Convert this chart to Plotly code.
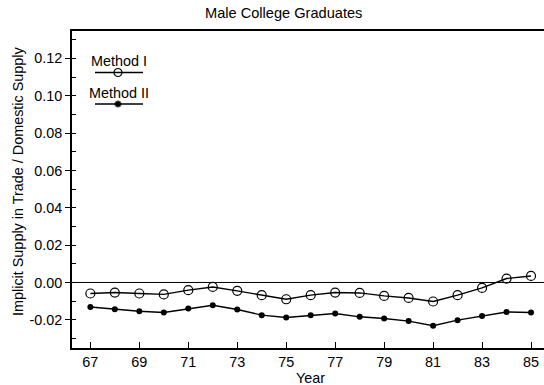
import plotly.graph_objects as go

# Survey years (19xx) and the two estimates of implicit supply
years = list(range(67, 86))
method_1 = [-0.0059, -0.0054, -0.0059, -0.0064, -0.0041, -0.0024, -0.0045, -0.0068,
            -0.0090, -0.0068, -0.0054, -0.0056, -0.0072, -0.0083, -0.0102, -0.0068,
            -0.0029, 0.0021, 0.0035]
method_2 = [-0.0131, -0.0143, -0.0154, -0.0161, -0.0140, -0.0122, -0.0145, -0.0175,
            -0.0188, -0.0175, -0.0166, -0.0184, -0.0193, -0.0207, -0.0232, -0.0202,
            -0.0179, -0.0158, -0.0161]
x_ticks = list(range(67, 86, 2))
y_ticks = [-0.02, 0.0, 0.02, 0.04, 0.06, 0.08, 0.10, 0.12]

W, H = 544, 385
L, R, T, B = 72, 0, 31, 37
FONT = "Liberation Sans, Arial, sans-serif"
FS = 14.4

fig = go.Figure()
fig.add_trace(go.Scatter(
    x=years, y=method_1, mode="lines+markers", name="Method I",
    line=dict(color="black", width=1.4),
    marker=dict(symbol="circle-open", size=9, color="black", line=dict(width=1.2)),
))
fig.add_trace(go.Scatter(
    x=years, y=method_2, mode="lines+markers", name="Method II",
    line=dict(color="black", width=1.4),
    marker=dict(symbol="circle", size=6, color="black"),
))

# zero reference line
fig.add_shape(type="line", xref="paper", yref="y", x0=0, x1=1, y0=0, y1=0,
              line=dict(color="black", width=1))

# hand-drawn legend: label above a short line with its marker
def px_x(p):
    return (p - L) / (W - L - R)

def px_y(p):
    return 1 - (p - T) / (H - T - B)

legend = [("Method I", 61, 72.5, "circle-open", 8),
          ("Method II", 93, 104, "circle", 6)]
for label, ty, ly, sym, size in legend:
    fig.add_annotation(text=label, xref="paper", yref="paper",
                       x=px_x(118.5), y=px_y(ty), showarrow=False,
                       xanchor="center", yanchor="middle",
                       font=dict(family=FONT, size=FS, color="black"))
    fig.add_shape(type="line", xref="paper", yref="paper",
                  x0=px_x(95), x1=px_x(143), y0=px_y(ly), y1=px_y(ly),
                  line=dict(color="black", width=1.4))
    fig.add_trace(go.Scatter(
        x=[px_x(118)], y=[px_y(ly)], xaxis="x2", yaxis="y2", mode="markers",
        showlegend=False, hoverinfo="skip",
        marker=dict(symbol=sym, size=size, color="black", line=dict(width=1.2)),
    ))

fig.add_annotation(text="Male College Graduates", xref="paper", yref="paper",
                   x=px_x(283), y=px_y(13), showarrow=False,
                   xanchor="center", yanchor="middle",
                   font=dict(family=FONT, size=14.6, color="black"))
fig.add_annotation(text="Year", xref="paper", yref="paper",
                   x=px_x(310), y=px_y(378), showarrow=False,
                   xanchor="center", yanchor="middle",
                   font=dict(family=FONT, size=FS, color="black"))
fig.add_annotation(text="Implicit Supply in Trade / Domestic Supply",
                   xref="paper", yref="paper", textangle=-90,
                   x=px_x(18), y=px_y(181), showarrow=False,
                   xanchor="center", yanchor="middle",
                   font=dict(family=FONT, size=FS, color="black"))

fig.update_layout(
    width=W, height=H,
    margin=dict(l=L, r=R, t=T, b=B),
    paper_bgcolor="white", plot_bgcolor="white",
    showlegend=False,
    font=dict(family=FONT, size=FS, color="black"),
    xaxis=dict(
        range=[66.25, 85.53], tickvals=x_ticks, ticktext=[str(v) for v in x_ticks],
        ticks="inside", ticklen=6, tickwidth=1, tickcolor="black",
        ticklabelstandoff=0,
        showline=True, linecolor="black", linewidth=1.5, mirror=True,
        showgrid=False, zeroline=False,
        tickfont=dict(family=FONT, size=FS, color="black"),
    ),
    yaxis=dict(
        range=[-0.0351, 0.1347], tickvals=y_ticks,
        ticktext=[f"{v:.2f}" for v in y_ticks],
        ticks="outside", ticklen=5, tickwidth=1, tickcolor="black",
        minor=dict(dtick=0.01, tick0=0, ticks="inside", ticklen=4, tickcolor="black"),
        showline=True, linecolor="black", linewidth=1.5,
        showgrid=False, zeroline=False,
        tickfont=dict(family=FONT, size=FS, color="black"),
    ),
    xaxis2=dict(range=[0, 1], overlaying="x", visible=False),
    yaxis2=dict(range=[0, 1], overlaying="y", visible=False),
)

fig.write_html("out.html")
